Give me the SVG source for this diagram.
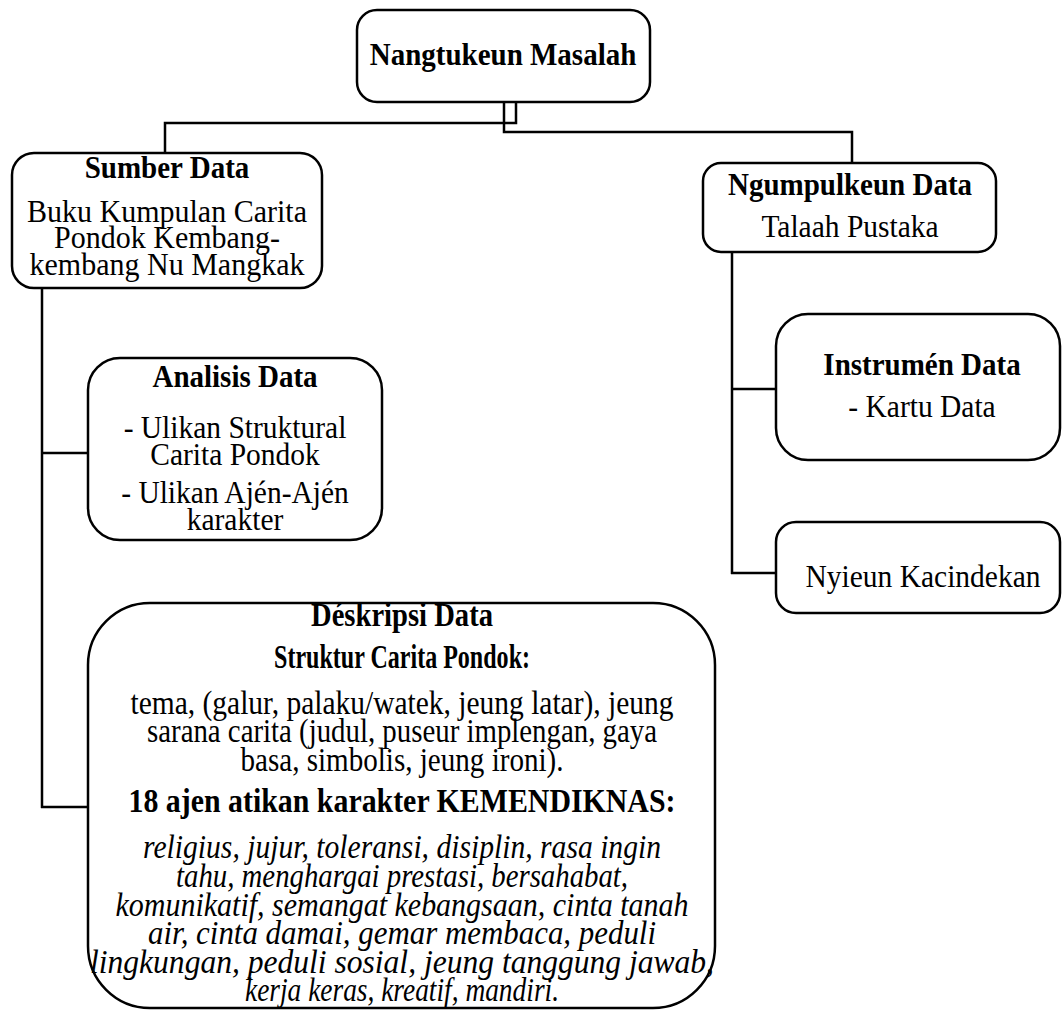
<svg xmlns="http://www.w3.org/2000/svg" width="1062" height="1010" viewBox="0 0 1062 1010">
<style>
.box{fill:#fff;stroke:#000;stroke-width:2.5}
.ln{fill:none;stroke:#000;stroke-width:2.5}
text{font-family:"Liberation Serif","Times New Roman",serif;font-size:29.5px;fill:#000;text-anchor:middle}
.b{font-weight:bold;font-size:29px}
.i{font-style:italic}
.d{font-size:31px}
</style>
<rect width="1062" height="1010" fill="#fff"/>
<g id="connectors">
<polyline class="ln" points="516,102 516,123 165,123 165,153"/>
<polyline class="ln" points="504,102 504,132 852,132 852,163"/>
<line class="ln" x1="42" y1="288" x2="42" y2="808"/>
<line class="ln" x1="41" y1="453" x2="88" y2="453"/>
<line class="ln" x1="41" y1="807" x2="88" y2="807"/>
<line class="ln" x1="732" y1="252" x2="732" y2="574"/>
<line class="ln" x1="731" y1="389" x2="776" y2="389"/>
<line class="ln" x1="731" y1="573" x2="776" y2="573"/>
</g>
<g id="n-masalah">
<rect class="box" x="357" y="10" width="293" height="92" rx="20"/>
<text class="b" transform="translate(503 65) scale(1 1.08)">Nangtukeun Masalah</text>
</g>
<g id="n-sumber">
<rect class="box" x="12" y="153" width="310" height="135" rx="22"/>
<text class="b" transform="translate(167 178) scale(1 1.08)">Sumber Data</text>
<text style="font-size:30px" transform="translate(167 222) scale(1 1.08)">Buku Kumpulan Carita</text>
<text style="font-size:30px" transform="translate(167 248) scale(1 1.08)">Pondok Kembang-</text>
<text style="font-size:30px" transform="translate(167 275) scale(1 1.08)">kembang Nu Mangkak</text>
</g>
<g id="n-ngumpulkeun">
<rect class="box" x="703" y="163" width="293" height="89" rx="18"/>
<text class="b" transform="translate(850 195) scale(1 1.08)">Ngumpulkeun Data</text>
<text transform="translate(850 237) scale(1 1.08)">Talaah Pustaka</text>
</g>
<g id="n-analisis">
<rect class="box" x="88" y="358" width="294" height="182" rx="32"/>
<text class="b" transform="translate(235 387) scale(1 1.08)">Analisis Data</text>
<text transform="translate(235 438) scale(1 1.08)">- Ulikan Struktural</text>
<text transform="translate(235 465) scale(1 1.08)">Carita Pondok</text>
<text transform="translate(235 503) scale(1 1.08)">- Ulikan Ajén-Ajén</text>
<text transform="translate(235 530) scale(1 1.08)">karakter</text>
</g>
<g id="n-instrumen">
<rect class="box" x="776" y="314" width="284" height="146" rx="32"/>
<text class="b" transform="translate(922 375) scale(1 1.08)">Instrumén Data</text>
<text transform="translate(922 417) scale(1 1.08)">- Kartu Data</text>
</g>
<g id="n-nyieun">
<rect class="box" x="776" y="522" width="284" height="91" rx="20"/>
<text transform="translate(923 587) scale(1 1.08)">Nyieun Kacindekan</text>
</g>
<g id="n-deskripsi">
<rect class="box" x="88" y="603" width="627" height="405" rx="62"/>
<text class="b d" transform="translate(402 626) scale(1 1.08)" textLength="182" lengthAdjust="spacingAndGlyphs">Déskripsi Data</text>
<text class="b d" transform="translate(402 668) scale(1 1.08)" textLength="256" lengthAdjust="spacingAndGlyphs">Struktur Carita Pondok:</text>
<text class="d" transform="translate(402 714) scale(1 1.08)" textLength="543" lengthAdjust="spacingAndGlyphs">tema, (galur, palaku/watek, jeung latar), jeung</text>
<text class="d" transform="translate(402 742) scale(1 1.08)" textLength="510" lengthAdjust="spacingAndGlyphs">sarana carita (judul, puseur implengan, gaya</text>
<text class="d" transform="translate(402 771) scale(1 1.08)" textLength="323" lengthAdjust="spacingAndGlyphs">basa, simbolis, jeung ironi).</text>
<text class="b d" transform="translate(402 812) scale(1 1.08)" textLength="547" lengthAdjust="spacingAndGlyphs">18 ajen atikan karakter KEMENDIKNAS:</text>
<text class="i d" transform="translate(402 858) scale(1 1.08)" textLength="518" lengthAdjust="spacingAndGlyphs">religius, jujur, toleransi, disiplin, rasa ingin</text>
<text class="i d" transform="translate(402 887) scale(1 1.08)" textLength="452" lengthAdjust="spacingAndGlyphs">tahu, menghargai prestasi, bersahabat,</text>
<text class="i d" transform="translate(402 916) scale(1 1.08)" textLength="573" lengthAdjust="spacingAndGlyphs">komunikatif, semangat kebangsaan, cinta tanah</text>
<text class="i d" transform="translate(402 944) scale(1 1.08)" textLength="508" lengthAdjust="spacingAndGlyphs">air, cinta damai, gemar membaca, peduli</text>
<text class="i d" transform="translate(402 973) scale(1 1.08)" textLength="624" lengthAdjust="spacingAndGlyphs">lingkungan, peduli sosial, jeung tanggung jawab,</text>
<text class="i d" transform="translate(402 1001) scale(1 1.08)" textLength="314" lengthAdjust="spacingAndGlyphs">kerja keras, kreatif, mandiri.</text>
</g>
</svg>
